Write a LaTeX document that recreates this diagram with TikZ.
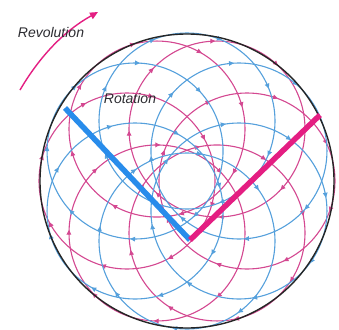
\documentclass[tikz,border=0pt]{standalone}
\usepackage{fontspec}
\setmainfont{Liberation Sans}
\usetikzlibrary{decorations.markings,arrows.meta}
\definecolor{pk}{RGB}{212,72,145}
\definecolor{bl}{RGB}{85,160,220}
\definecolor{pkarm}{RGB}{228,30,130}
\definecolor{blarm}{RGB}{40,140,235}
\definecolor{txt}{RGB}{45,45,50}
\tikzset{
  orbit/.style 2 args={draw=#1, line width=1.1pt, postaction=decorate,
    decoration={markings, mark=between positions #2 and 0.99 step 0.125 with {\arrow[#1]{Triangle[length=5pt,width=4.5pt]}}}},
  lbl/.style={font=\itshape\fontsize{14}{14}\selectfont, text=txt, inner sep=0pt},
  arm/.style={line width=5.5pt, line cap=butt}
}
\begin{document}
\begin{tikzpicture}[x=1pt,y=-1pt]
\useasboundingbox (0,0) rectangle (339,329);
\fill[white] (0,0) rectangle (339,329);
\coordinate (C) at (187,181);
\foreach \a [count=\i] in {0,60,...,300} {
  \pgfmathsetmacro\ph{mod(\i*0.037,0.12)+0.02}
  \draw[orbit={pk}{\ph}] (C) ++(\a:60) ++(0:88) arc[start angle=0,end angle=360,radius=88];
}
\foreach \a [count=\i] in {30,90,...,330} {
  \pgfmathsetmacro\ph{mod(\i*0.051,0.12)+0.05}
  \draw[orbit={bl}{\ph}] (C) ++(\a:60) ++(0:88) arc[start angle=0,end angle=360,radius=88];
}
\draw[line width=1.4pt, black!85] (C) circle[radius=147];
\coordinate (P) at (190,240);
\coordinate (B) at (65,108);
\coordinate (K) at (320,115);
\draw[arm, blarm] (B) -- (P);
\draw[arm, pkarm] (P) -- (K);
\coordinate (r0) at (20,90);
\coordinate (r1) at (98,12);
\draw[pkarm, line width=1.4pt, -{Triangle[length=8pt,width=7pt]}] (r0) .. controls (40,56) and (64,31) .. (r1);
\node[lbl] (rev) at (51,32) {Revolution};
\node[lbl] (rot) at (130,98) {Rotation};
\end{tikzpicture}
\end{document}
